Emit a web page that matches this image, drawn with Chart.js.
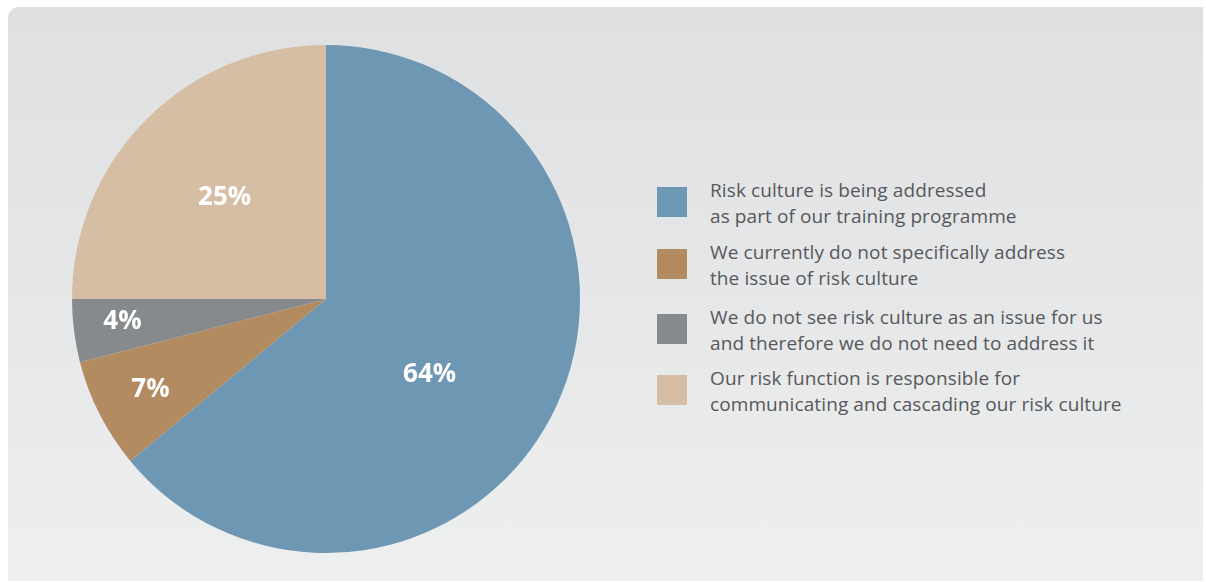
<!DOCTYPE html>
<html>
<head>
<meta charset="utf-8">
<script src="https://cdn.jsdelivr.net/npm/chart.js@4/dist/chart.umd.min.js"></script>
<style>
  html, body { margin: 0; padding: 0; background: #ffffff; }
  body { width: 1206px; height: 582px; position: relative; overflow: hidden; }
  #panel {
    position: absolute; left: 8px; top: 7px; width: 1195px; height: 574px;
    border-radius: 11px 0 0 3px;
    background: linear-gradient(to bottom, #dfe0e2 0%, #e6e7e8 50%, #eeefef 100%);
  }
  #pieBox { position: absolute; left: 72px; top: 45px; width: 508px; height: 508px; }
  #legend { position: absolute; left: 657px; top: 0; font-family: "Open Sans", sans-serif; color: #57585b; }
  .item { position: absolute; left: 0; width: 520px; }
  .swatch { position: absolute; left: 0; width: 30px; height: 30px; }
  .text { position: absolute; left: 53px; font-size: 19px; letter-spacing: 0.1px; line-height: 26px; white-space: nowrap; }
</style>
</head>
<body>
<div id="panel"></div>
<div id="pieBox"><canvas id="pie" width="508" height="508"></canvas></div>
<div id="legend"></div>
<script>
// Survey answers on how risk culture is addressed
const categories = [
  ["Risk culture is being addressed", "as part of our training programme"],
  ["We currently do not specifically address", "the issue of risk culture"],
  ["We do not see risk culture as an issue for us", "and therefore we do not need to address it"],
  ["Our risk function is responsible for", "communicating and cascading our risk culture"]
];
const shares = [64, 7, 4, 25];
const sliceColors = ["#6e97b4", "#b38b61", "#878a8d", "#d5bea3"];

// Where each percentage label sits: fraction of radius, angle shift (radians)
const labelPlacement = [
  { r: 0.50, shift: 0.19 },
  { r: 0.78, shift: 0.0 },
  { r: 0.81, shift: 0.02 },
  { r: 0.57, shift: 0.0 }
];

const pctLabels = {
  id: "pctLabels",
  afterDatasetsDraw(chart) {
    const ctx = chart.ctx;
    const meta = chart.getDatasetMeta(0);
    ctx.save();
    ctx.fillStyle = "#ffffff";
    ctx.font = "bold 26px 'Open Sans', sans-serif";
    ctx.textAlign = "center";
    ctx.textBaseline = "middle";
    meta.data.forEach((arc, i) => {
      const p = arc.getProps(["x", "y", "startAngle", "endAngle", "outerRadius"], true);
      const a = (p.startAngle + p.endAngle) / 2 + labelPlacement[i].shift;
      const rr = p.outerRadius * labelPlacement[i].r;
      ctx.fillText(shares[i] + "%", p.x + Math.cos(a) * rr + 1, p.y + Math.sin(a) * rr + 1);
    });
    ctx.restore();
  }
};

new Chart(document.getElementById("pie"), {
  type: "pie",
  data: {
    labels: categories.map(c => c.join(" ")),
    datasets: [{ data: shares, backgroundColor: sliceColors, borderWidth: 0 }]
  },
  options: {
    responsive: false,
    animation: false,
    layout: { padding: 0 },
    plugins: { legend: { display: false }, tooltip: { enabled: false } }
  },
  plugins: [pctLabels]
});

// Legend on the right
const legendTops = [177, 239, 304, 365];
const legend = document.getElementById("legend");
categories.forEach((lines, i) => {
  const item = document.createElement("div");
  item.className = "item";
  item.style.top = legendTops[i] + "px";
  const sw = document.createElement("div");
  sw.className = "swatch";
  sw.style.background = sliceColors[i];
  sw.style.top = "10px";
  const tx = document.createElement("div");
  tx.className = "text";
  tx.style.top = "0px";
  tx.innerHTML = lines.join("<br>");
  item.appendChild(sw);
  item.appendChild(tx);
  legend.appendChild(item);
});
</script>
</body>
</html>
